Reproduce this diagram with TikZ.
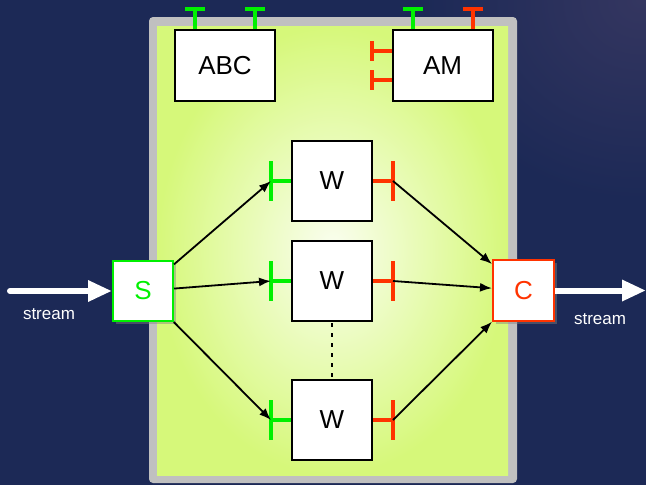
\documentclass[tikz,border=0pt]{standalone}
\usepackage{fontspec}
\setmainfont{Liberation Sans}
\usetikzlibrary{arrows.meta,shadows}

\definecolor{bgblue}{RGB}{28,41,86}
\definecolor{bgglow}{RGB}{52,54,96}
\definecolor{framegray}{RGB}{192,192,192}
\definecolor{panelgreen}{RGB}{214,248,122}
\definecolor{panelwhite}{RGB}{250,254,240}
\definecolor{tgreen}{RGB}{0,240,0}
\definecolor{tred}{RGB}{255,51,0}

\begin{document}
\begin{tikzpicture}[x=1pt, y=-1pt, >={Latex[length=12pt,width=9pt]},
	box/.style={draw=black, line width=2pt, fill=white, inner sep=0pt, minimum width=80pt, minimum height=80pt, font=\fontsize{26}{28}\selectfont},
	endbox/.style={box, minimum width=60pt, minimum height=60pt, drop shadow={opacity=0.45, shadow xshift=3pt, shadow yshift=-3pt}},
	gport/.style={tgreen, line width=4pt},
	rport/.style={tred, line width=4pt},
	flow/.style={->, black, line width=1.8pt},
	streamarrow/.style={-{Triangle[length=24pt,width=20pt]}, white, line width=6pt, line cap=round},
	lab/.style={text=white, font=\fontsize{17}{19}\selectfont}]
	\useasboundingbox (0,0) rectangle (646,485);
	\fill[bgblue] (0,0) rectangle (646,485);
	\shade[inner color=bgglow, outer color=bgblue] (420,-200) rectangle (860,200);
	% container
	\fill[framegray, rounded corners=4pt] (149,17) rectangle (517,483);
	\shade[inner color=panelwhite, outer color=panelgreen] (157,26) rectangle (508,475);
	% service boxes
	\node[box, minimum width=100pt, minimum height=71pt] (abc) at (225,65.5) {ABC};
	\node[box, minimum width=100pt, minimum height=71pt] (am) at (442.5,65.5) {AM};
	\foreach \dx in {-30,30} {\draw[gport] ([xshift=\dx pt]abc.north) -- ++(0,-20) ++(-10,0) -- ++(20,0);}
	\draw[gport] ([xshift=-30pt]am.north) -- ++(0,-20) ++(-10,0) -- ++(20,0);
	\draw[rport] ([xshift=30pt]am.north) -- ++(0,-20) ++(-10,0) -- ++(20,0);
	\foreach \dy in {-14.5,14.5} {\draw[rport] ([yshift=-\dy pt]am.west) -- ++(-20,0) ++(0,-10) -- ++(0,20);}
	% workers
	\node[box] (w1) at (332,181) {W};
	\node[box] (w2) at (332,281) {W};
	\node[box] (w3) at (332,420) {W};
	\draw[black, line width=2pt, dash pattern=on 4pt off 6pt, dash phase=-1pt] (w2.south) -- (w3.north);
	\foreach \w in {w1,w2,w3} {
		\draw[gport] (\w.west) -- ++(-20,0) coordinate (\w in) ++(0,-20) -- ++(0,40);
		\draw[rport] (\w.east) -- ++(20,0) coordinate (\w out) ++(0,-20) -- ++(0,40);
	}
	% split and collect
	\node[endbox, draw=tgreen, text=tgreen] (s) at (143,291) {S};
	\node[endbox, draw=tred, text=tred, minimum width=61pt, minimum height=61pt] (c) at (523.5,290.5) {C};
	\foreach \w in {w1,w2,w3} {
		\draw[flow] (s) -- (\w in);
		\draw[flow] (\w out) -- (c);
	}
	% stream in and out
	\coordinate (src) at (10,291);
	\coordinate (dst) at (646,290.5);
	\draw[streamarrow] (src) -- (s.west);
	\draw[streamarrow, line cap=butt] (c.east) -- (dst);
	\node[lab] (inlab) at (49,314) {stream};
	\node[lab] (outlab) at (600,319) {stream};
\end{tikzpicture}
\end{document}
